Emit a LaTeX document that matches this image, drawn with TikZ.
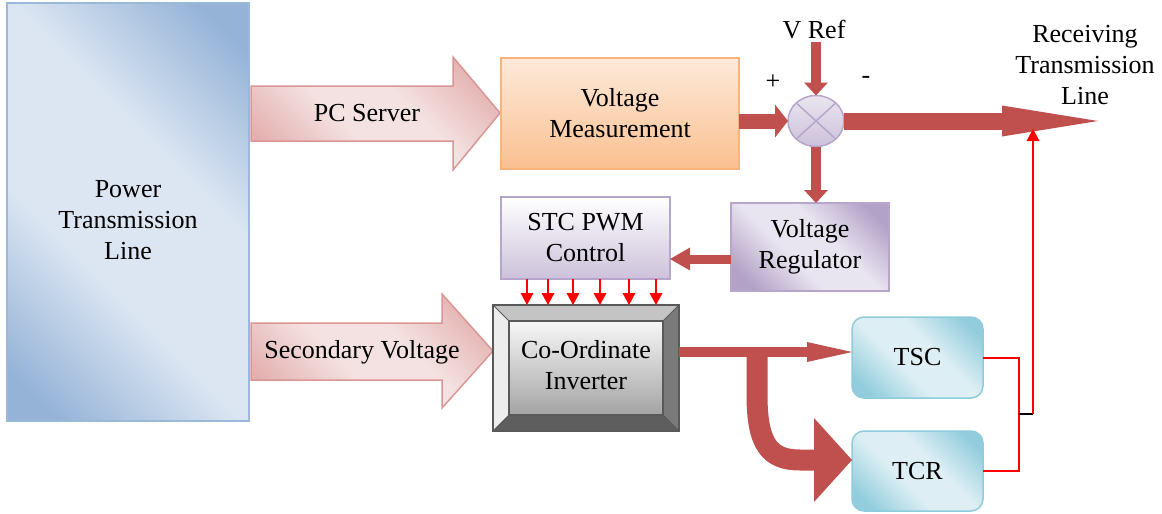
\documentclass[tikz,border=0pt]{standalone}
\usepackage{fontspec}
\setmainfont{Liberation Serif}
\usetikzlibrary{arrows.meta,shapes.geometric,calc}
\definecolor{ptlD}{HTML}{95B3D7}
\definecolor{ptlL}{HTML}{DCE6F2}
\definecolor{ptlE}{HTML}{9BB8DA}
\definecolor{vmT}{HTML}{FDEADA}
\definecolor{vmB}{HTML}{FAC090}
\definecolor{vmE}{HTML}{F9B47C}
\definecolor{puD}{HTML}{B3A2C7}
\definecolor{puL}{HTML}{E9E5F0}
\definecolor{puE}{HTML}{B7A6CC}
\definecolor{puB}{HTML}{CCC1DA}
\definecolor{cyD}{HTML}{93CDDD}
\definecolor{cyL}{HTML}{DDEFF4}
\definecolor{cyE}{HTML}{8FCCDB}
\definecolor{pkD}{HTML}{E3B0AF}
\definecolor{pkL}{HTML}{F4E2E2}
\definecolor{pkE}{HTML}{D99694}
\definecolor{arrowred}{HTML}{C0504D}
\definecolor{gdark}{HTML}{595959}
\definecolor{bevT}{HTML}{C4C4C4}
\definecolor{bevL}{HTML}{EDEDED}
\definecolor{bevR}{HTML}{7A7A7A}
\definecolor{bevB}{HTML}{5E5E5E}
\definecolor{faceT}{HTML}{F7F7F7}
\definecolor{faceB}{HTML}{A3A3A3}
\definecolor{linered}{HTML}{FF0000}
\pgfdeclareverticalshading{ptlshade}{100bp}{color(0bp)=(ptlD); color(20bp)=(ptlD); color(40bp)=(ptlL); color(60bp)=(ptlL); color(80bp)=(ptlD); color(100bp)=(ptlD)}
\pgfdeclareverticalshading{pushade}{100bp}{color(0bp)=(puD); color(22bp)=(puD); color(42bp)=(puL); color(58bp)=(puL); color(78bp)=(puD); color(100bp)=(puD)}
\pgfdeclareverticalshading{cyshade}{100bp}{color(0bp)=(cyD); color(22bp)=(cyD); color(42bp)=(cyL); color(58bp)=(cyL); color(78bp)=(cyD); color(100bp)=(cyD)}
\pgfdeclareverticalshading{pkshade}{100bp}{color(0bp)=(pkD); color(22bp)=(pkD); color(42bp)=(pkL); color(58bp)=(pkL); color(78bp)=(pkD); color(100bp)=(pkD)}
\begin{document}
\begin{tikzpicture}[x=1pt,y=-1pt,
  txt/.style={font=\rmfamily\fontsize{26}{31}\selectfont, align=center, inner sep=2pt, text=black},
  boxbase/.style={txt, line width=1.5pt, outer sep=0pt},
  ptlbox/.style={boxbase, draw=ptlE, shading=ptlshade, shading angle=-45},
  vmbox/.style={boxbase, draw=vmE, top color=vmT, bottom color=vmB},
  vrbox/.style={boxbase, draw=puE, shading=pushade, shading angle=-45},
  stcbox/.style={boxbase, draw=puE, top color=white, bottom color=puB},
  cybox/.style={boxbase, draw=cyE, shading=cyshade, shading angle=-45, rounded corners=12pt},
  sumbox/.style={ellipse, line width=1.5pt, draw=puE, top color=puL, bottom color=puB, outer sep=0pt},
  invbox/.style={line width=1.5pt, draw=gdark, fill=bevT, outer sep=0pt},
  blockarrow/.style={draw=pkE, line width=1.5pt, shading=pkshade, shading angle=-45},
  fat/.style args={#1/#2/#3}{color=arrowred, line width=#1, -{Triangle[width=#2,length=#3,line width=0pt]}},
  thinred/.style={color=linered, line width=2pt, -{Triangle[width=13pt,length=12pt,line width=0pt]}},
  wire/.style={color=linered, line width=2pt}
]
\useasboundingbox (0,0) rectangle (1162,514);

% Power transmission line
\node[ptlbox, minimum width=242pt, minimum height=418pt] (ptl) at (128,212) {};
\node[txt] (ptltext) at ($(ptl.center)+(0,8)$) {Power\\Transmission\\Line};

% block arrows
\path[blockarrow] (251,86) -- (453,86) -- (453,57) -- (500,113) -- (453,170) -- (453,141) -- (251,141) -- cycle;
\node[txt] (pcs) at (367,113) {PC Server};
\path[blockarrow] (251,323) -- (442,323) -- (442,294) -- (493,351) -- (442,408) -- (442,380) -- (251,380) -- cycle;
\node[txt] (sv) at (362,352) {Secondary Voltage};

% boxes
\node[vmbox, minimum width=238pt, minimum height=111pt] (vm) at (620,113.5) {Voltage\\Measurement};
\node[sumbox, minimum width=56pt, minimum height=51pt] (sum) at (816,121) {};
\draw[puE, line width=1.5pt] (sum.north west) -- (sum.south east) (sum.north east) -- (sum.south west);
\node[txt] (vref) at (814,30) {V Ref};
\node[txt] (plus) at (773,82) {+};
\node[txt] (minus) at (866,80) {-};
\node[txt] (rtl) at (1085,65) {Receiving\\Transmission\\Line};
\node[vrbox, minimum width=158pt, minimum height=88pt] (vr) at (810,247) {Voltage\\Regulator};
\node[stcbox, minimum width=169pt, minimum height=82pt] (stc) at (585.5,238) {STC PWM\\Control};
\node[cybox, minimum width=131pt, minimum height=81pt] (tsc) at (917.5,357.5) {TSC};
\node[cybox, minimum width=131pt, minimum height=80pt] (tcr) at (917.5,471) {TCR};

% bevelled inverter
\node[invbox, minimum width=186pt, minimum height=126pt] (inv) at (586,368) {};
\fill[bevL] (inv.north west) -- ++(16,16) -- ($(inv.south west)+(16,-16)$) -- (inv.south west) -- cycle;
\fill[bevR] (inv.north east) -- ++(-16,16) -- ($(inv.south east)+(-16,-16)$) -- (inv.south east) -- cycle;
\fill[bevB] (inv.south west) -- ++(16,-16) -- ($(inv.south east)+(-16,-16)$) -- (inv.south east) -- cycle;
\draw[gdark, line width=1pt] (inv.north west) -- ++(16,16) (inv.north east) -- ++(-16,16)
  (inv.south west) -- ++(16,-16) (inv.south east) -- ++(-16,-16);
\path[draw=gdark, line width=1.5pt, top color=faceT, bottom color=faceB]
  ($(inv.north west)+(16,16)$) rectangle ($(inv.south east)+(-16,-16)$);
\draw[gdark, line width=1.5pt] (inv.north west) rectangle (inv.south east);
\node[txt] (invtext) at ($(inv.center)+(0,-3)$) {Co-Ordinate\\Inverter};

% fat connectors
\coordinate (rtip) at (1098,121);
\draw[fat=15pt/33pt/13pt] (vm.east |- sum.west) -- (sum.west);
\draw[fat=10pt/24pt/13pt] (sum.north |- vref.south) -- (sum.north);
\draw[fat=17pt/31pt/96pt] (sum.east) -- (rtip);
\draw[fat=10pt/24pt/13pt] (sum.south) -- (sum.south |- vr.north);
\coordinate (vrout) at ($(vr.west)+(0,12)$);
\draw[fat=9pt/23pt/20pt] (vrout) -- (vrout -| stc.east);
\coordinate (invout) at ($(inv.east)+(0,-16)$);
\draw[fat=10pt/20pt/45pt] (invout) -- (invout -| tsc.west);
\coordinate (br) at (757,352);
\coordinate (tcrin) at ($(tcr.west)+(0,-11)$);
\draw[fat=21pt/84pt/38pt] (br) -- (757,395) .. controls (757,445) and (770,460) .. (800,460) -- (tcrin);

% control arrows
\foreach \x in {527,548,573,600,629,656}
  \draw[thinred] (\x,0 |- stc.south) -- (\x,0 |- inv.north);

% output wiring
\draw[wire] (tsc.east) -- ++(36,0) coordinate (tscr) |- (tcr.east);
\coordinate (mid) at ($(tscr)!0.5!(tscr |- tcr.east)$);
\draw[black, line width=2pt] (mid) -- ++(14,0) coordinate (up);
\coordinate (rbot) at ($(rtip)+(0,8)$);
\draw[thinred] (up) -- (up |- rbot);
\end{tikzpicture}
\end{document}
